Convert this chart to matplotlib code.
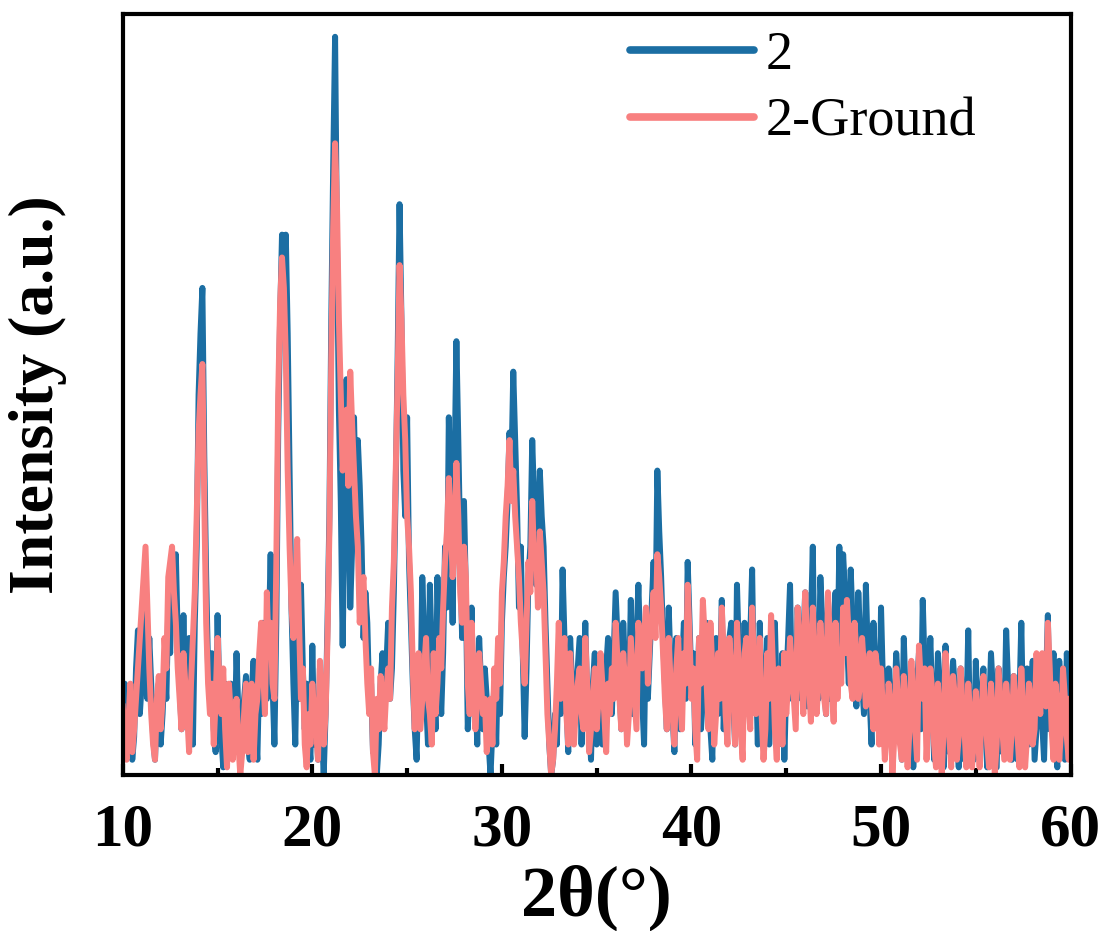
import numpy as np
import matplotlib.pyplot as plt
from matplotlib.ticker import MultipleLocator

# sample 2 (as-made), intensity in a.u., one row per 5 deg, step 0.1 deg
intensity_2 = [
    8, 12, 3, 6, 10, 2, 5, 14, 19, 8, 12, 20, 28, 10, 18, 12, 5, 2, 9, 12, 4, 8, 14, 10, 22,
    16, 28, 20, 29, 18, 12, 6, 21, 9, 14, 18, 8, 4, 20, 30, 50, 58, 64, 42, 26, 14, 10, 16, 6, 3,
    21, 10, 5, 1, 12, 8, 3, 12, 9, 4, 16, 8, 2, 6, 10, 13, 4, 2, 11, 15, 6, 2, 14, 8, 20,
    16, 10, 18, 29, 12, 4, 20, 45, 60, 71, 66, 71, 58, 40, 22, 12, 4, 20, 10, 25, 14, 6, 12, 5, 2,
    17, 4, 8, 2, 14, 6, 0, 8, 20, 34, 60, 80, 97, 70, 48, 36, 17, 34, 52, 40, 22, 30, 47, 34, 44,
    38, 30, 18, 24, 20, 10, 12, 3, 8, 0, 4, 12, 16, 8, 14, 20, 10, 14, 24, 38, 55, 75, 60, 40, 34,
    47, 28, 20, 12, 6, 2, 14, 8, 26, 18, 10, 4, 25, 16, 14, 6, 26, 14, 8, 16, 30, 22, 47, 34, 20,
    40, 57, 44, 30, 18, 36, 24, 6, 12, 22, 8, 12, 4, 18, 12, 6, 14, 10, 4, 0, 6, 12, 4, 16, 8,
    20, 26, 30, 36, 45, 40, 53, 44, 35, 22, 30, 16, 5, 14, 26, 30, 44, 36, 25, 30, 40, 34, 30, 20, 12,
    4, 0, 2, 8, 4, 16, 8, 27, 18, 10, 3, 18, 12, 6, 10, 14, 18, 4, 12, 20, 10, 8, 2, 12, 16,
    4, 9, 14, 4, 10, 14, 18, 12, 8, 16, 24, 18, 12, 6, 20, 14, 6, 10, 23, 8, 14, 18, 25, 16, 10,
    4, 20, 10, 16, 22, 28, 20, 40, 32, 26, 18, 12, 6, 22, 14, 8, 3, 18, 12, 6, 14, 20, 10, 28, 20,
    12, 16, 4, 10, 18, 6, 10, 15, 20, 12, 6, 2, 16, 18, 8, 12, 23, 6, 14, 8, 18, 20, 10, 4, 25,
    16, 12, 6, 20, 14, 8, 18, 27, 10, 14, 4, 20, 12, 6, 10, 18, 4, 10, 14, 20, 10, 4, 8, 16, 2,
    12, 18, 25, 10, 14, 8, 22, 16, 10, 18, 24, 9, 14, 20, 30, 12, 18, 10, 26, 20, 12, 8, 22, 10, 16,
    20, 24, 14, 30, 18, 29, 24, 18, 12, 27, 20, 14, 9, 24, 18, 12, 8, 25, 16, 10, 4, 20, 14, 12, 6,
    22, 12, 4, 10, 14, 8, 2, 9, 16, 12, 6, 2, 18, 10, 3, 8, 14, 1, 8, 12, 16, 6, 23, 14, 6,
    11, 18, 10, 2, 6, 16, 12, 8, 1, 17, 9, 3, 8, 15, 11, 6, 1, 14, 9, 2, 7, 19, 4, 10, 2,
    15, 8, 3, 10, 14, 6, 1, 8, 16, 11, 6, 1, 14, 9, 3, 6, 19, 12, 8, 2, 13, 8, 2, 10, 20,
    6, 12, 14, 4, 9, 15, 2, 6, 10, 14, 7, 2, 12, 21, 6, 12, 16, 4, 1, 15, 10, 6, 2, 16, 10,
    5,
]

# sample 2 after grinding
intensity_2_ground = [
    9, 5, 2, 7, 12, 3, 6, 10, 14, 18, 22, 26, 30, 22, 14, 8, 4, 2, 10, 13, 6, 10, 18, 14, 26,
    28, 30, 24, 20, 14, 10, 6, 16, 12, 8, 3, 12, 18, 24, 34, 45, 50, 54, 36, 20, 12, 8, 12, 4, 10,
    18, 12, 8, 14, 6, 1, 12, 8, 2, 6, 10, 4, 0, 3, 8, 12, 3, 6, 12, 2, 8, 10, 16, 20, 14,
    8, 24, 16, 20, 12, 10, 28, 50, 62, 68, 64, 55, 40, 30, 22, 18, 24, 31, 20, 10, 14, 4, 1, 8, 4,
    12, 8, 6, 2, 15, 10, 4, 8, 18, 32, 55, 72, 83, 75, 60, 50, 40, 44, 48, 38, 53, 46, 40, 34, 30,
    20, 24, 26, 18, 12, 8, 14, 3, 0, 10, 6, 13, 9, 6, 11, 14, 10, 22, 28, 40, 52, 67, 60, 50, 44,
    34, 30, 24, 14, 6, 12, 16, 6, 10, 14, 18, 10, 8, 4, 16, 8, 12, 18, 14, 22, 28, 32, 39, 34, 26,
    30, 41, 34, 24, 20, 30, 26, 12, 8, 20, 14, 6, 10, 16, 12, 8, 10, 3, 6, 10, 4, 14, 10, 18, 12,
    24, 28, 34, 38, 44, 36, 40, 34, 30, 26, 20, 16, 12, 20, 28, 24, 36, 28, 30, 22, 32, 28, 24, 16, 8,
    4, 0, 2, 6, 12, 20, 10, 14, 18, 8, 4, 16, 10, 4, 9, 12, 14, 8, 6, 18, 12, 3, 6, 10, 14,
    6, 10, 16, 12, 8, 3, 12, 8, 14, 10, 20, 15, 10, 6, 16, 12, 4, 8, 18, 14, 10, 6, 20, 16, 14,
    18, 22, 12, 18, 20, 24, 18, 29, 26, 22, 16, 10, 6, 18, 12, 8, 4, 14, 18, 10, 6, 16, 12, 25, 18,
    10, 14, 6, 2, 18, 12, 23, 18, 12, 6, 20, 14, 4, 8, 16, 10, 22, 16, 8, 4, 18, 14, 12, 4, 20,
    14, 6, 2, 16, 18, 10, 6, 22, 14, 8, 12, 18, 8, 2, 6, 16, 10, 21, 14, 6, 2, 14, 10, 4, 16,
    8, 12, 18, 14, 10, 6, 22, 18, 14, 8, 24, 18, 12, 7, 22, 16, 8, 12, 20, 16, 10, 8, 24, 18, 12,
    7, 20, 10, 16, 12, 22, 16, 23, 18, 12, 10, 20, 16, 10, 12, 18, 14, 9, 12, 16, 10, 6, 16, 14, 4,
    14, 8, 2, 6, 12, 9, 0, 5, 14, 10, 4, 2, 13, 9, 1, 6, 15, 10, 6, 2, 17, 12, 10, 14, 2,
    8, 14, 11, 4, 1, 12, 8, 0, 6, 16, 12, 5, 1, 13, 10, 2, 5, 14, 9, 6, 1, 12, 8, 1, 5,
    11, 6, 1, 8, 13, 9, 4, 1, 12, 8, 0, 4, 14, 10, 6, 2, 12, 9, 2, 6, 13, 10, 5, 1, 14,
    8, 1, 5, 12, 10, 4, 6, 16, 12, 8, 16, 13, 9, 20, 14, 6, 2, 12, 9, 2, 6, 14, 10, 5, 2,
    10,
]

# 2-theta grid of the scan (deg)
two_theta = np.linspace(10, 60, len(intensity_2))

labels = ["2", "2-Ground"]
colors = ["#1b6ea3", "#f88080"]

plt.rcParams["font.family"] = ["Liberation Serif", "DejaVu Serif"]

fig = plt.figure(figsize=(11.06, 9.31), dpi=100)
ax = fig.add_axes([0.111, 0.1676, 0.857, 0.8174])

ax.plot(two_theta, intensity_2, color=colors[0], lw=4.3, label=labels[0])
ax.plot(two_theta, intensity_2_ground, color=colors[1], lw=4.3, label=labels[1])

ax.set_xlim(10, 60)
ax.set_ylim(0, 100)
ax.xaxis.set_major_locator(MultipleLocator(10))
ax.xaxis.set_minor_locator(MultipleLocator(5))
ax.tick_params(axis="x", which="major", direction="in", length=8, width=3,
               labelsize=44, pad=20)
ax.tick_params(axis="x", which="minor", direction="in", length=5, width=3)
ax.set_yticks([])
for lab in ax.get_xticklabels():
    lab.set_fontweight("bold")
for sp in ax.spines.values():
    sp.set_linewidth(3)

ax.set_xlabel("2θ(°)", fontsize=52, fontweight="bold", labelpad=4)
ax.set_ylabel("Intensity (a.u.)", fontsize=46, fontweight="bold", labelpad=40)

leg = ax.legend(loc="upper left", bbox_to_anchor=(0.535, 0.978), frameon=False,
                fontsize=39, handlelength=2.3, handletextpad=0.2,
                labelspacing=0.3, borderpad=0, borderaxespad=0)
for line in leg.get_lines():
    line.set_linewidth(5.5)
    line.set_solid_capstyle("round")

fig.savefig("out.png", dpi=100)
